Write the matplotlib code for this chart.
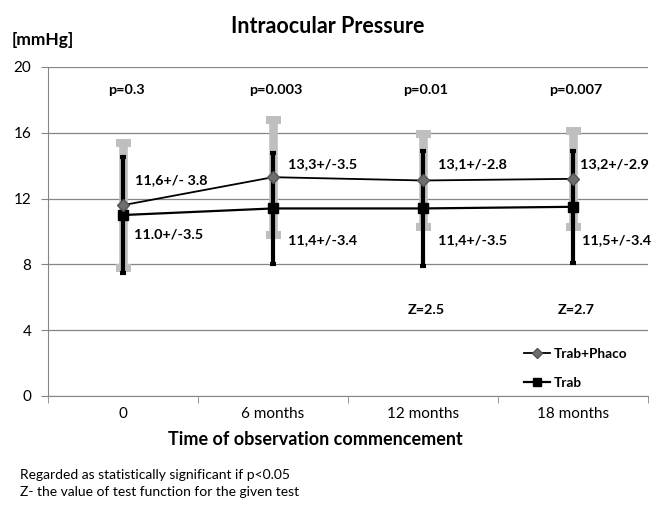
import numpy as np
import matplotlib
matplotlib.use("Agg")
import matplotlib.pyplot as plt
from matplotlib.lines import Line2D

plt.rcParams['font.family'] = ['Lato', 'DejaVu Sans']

categories = ["0", "6 months", "12 months", "18 months"]
phaco_mean = [11.6, 13.3, 13.1, 13.2]
phaco_sd = [3.8, 3.5, 2.8, 2.9]
trab_mean = [11.0, 11.4, 11.4, 11.5]
trab_sd = [3.5, 3.4, 3.5, 3.4]
p_values = ["p=0.3", "p=0.003", "p=0.01", "p=0.007"]
phaco_labels = ["11,6+/- 3.8", "13,3+/-3.5", "13,1+/-2.8", "13,2+/-2.9"]
trab_labels = ["11.0+/-3.5", "11,4+/-3.4", "11,4+/-3.5", "11,5+/-3.4"]
z_values = {2: "Z=2.5", 3: "Z=2.7"}

x = np.arange(len(categories))

fig = plt.figure(figsize=(6.55, 5.12), dpi=100)
ax = fig.add_axes([0.0733, 0.2266, 0.916, 0.6426])

# error bars: gray for Trab+Phaco, black for Trab
ax.errorbar(x, phaco_mean, yerr=phaco_sd, fmt="none", ecolor="#bfbfbf",
            elinewidth=6.2, capsize=5.4, capthick=5.8, zorder=2)
ax.errorbar(x, trab_mean, yerr=trab_sd, fmt="none", ecolor="black",
            elinewidth=3.0, capsize=2.0, capthick=3.0, zorder=3)

ax.plot(x, trab_mean, color="black", lw=1.6, marker="s", ms=7,
        mfc="black", mec="black", zorder=4)
ax.plot(x, phaco_mean, color="black", lw=1.3, marker="D", ms=6.5,
        mfc="#6e6e6e", mec="#555555", zorder=5)

ax.set_xlim(-0.5, 3.5)
ax.set_ylim(0, 20)
ax.set_yticks([0, 4, 8, 12, 16, 20])
ax.set_xticks(x)
ax.set_xticklabels(categories, fontsize=11)
ax.set_xticks(np.arange(-0.5, 4, 1), minor=True)
ax.tick_params(axis="x", which="major", length=0, pad=8)
ax.tick_params(axis="x", which="minor", length=5, color="#868686")
ax.tick_params(axis="y", length=5, color="#868686", labelsize=11, pad=7)
ax.grid(axis="y", color="#868686", lw=0.9)
ax.set_axisbelow(True)
for s in ["top", "right"]:
    ax.spines[s].set_visible(False)
for s in ["left", "bottom"]:
    ax.spines[s].set_color("#868686")

lab = dict(fontsize=10.4, fontweight="bold", color="black")
for i in x:
    ax.text(i + 0.02, 18.6, p_values[i], ha="center", va="center", **lab)
ax.text(0.08, 13.1, phaco_labels[0], ha="left", va="center", **lab)
ax.text(0.07, 9.8, trab_labels[0], ha="left", va="center", **lab)
for i in [1, 2]:
    ax.text(i + 0.1, 14.1, phaco_labels[i], ha="left", va="center", **lab)
    ax.text(i + 0.1, 9.5, trab_labels[i], ha="left", va="center", **lab)
ax.text(3.05, 14.1, phaco_labels[3], ha="left", va="center", **lab)
ax.text(3.06, 9.5, trab_labels[3], ha="left", va="center", **lab)
for i, z in z_values.items():
    ax.text(i + 0.02, 5.2, z, ha="center", va="center", **lab)

handles = [
    Line2D([], [], color="black", lw=1.3, marker="D", ms=5,
           mfc="#6e6e6e", mec="#555555"),
    Line2D([], [], color="black", lw=1.6, marker="s", ms=6, mfc="black"),
]
ax.legend(handles, ["Trab+Phaco", "Trab"], loc="upper left",
          bbox_to_anchor=(0.782, 0.168), frameon=False, borderpad=0,
          handlelength=1.9, handletextpad=0.25, labelspacing=1.25,
          prop={"weight": "bold", "size": 9.8})

fig.text(0.5, 0.949, "Intraocular Pressure", ha="center", va="center",
         fontsize=15.5, fontweight="bold")
fig.text(0.018, 0.921, "[mmHg]", ha="left", va="center",
         fontsize=12.5, fontweight="bold")
fig.text(0.482, 0.141, "Time of observation commencement", ha="center",
         va="center", fontsize=13, fontweight="bold")
fig.text(0.03, 0.072, "Regarded as statistically significant if p<0.05",
         ha="left", va="center", fontsize=10)
fig.text(0.03, 0.039, "Z- the value of test function for the given test",
         ha="left", va="center", fontsize=10)

fig.savefig("out.png", dpi=100)
